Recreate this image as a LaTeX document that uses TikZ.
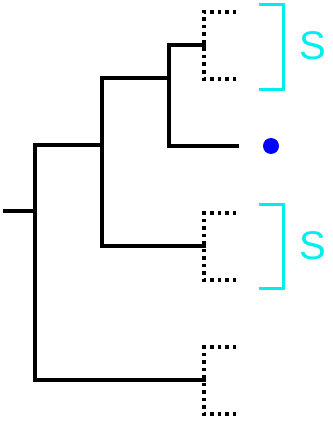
\documentclass[tikz,border=0pt]{standalone}
\usepackage{fontspec}
\setmainfont{Liberation Sans}
\definecolor{cladecyan}{RGB}{0,238,238}
\tikzset{
  branch/.style={line width=3.5pt,line cap=rect},
  hidden/.style={line width=3.5pt,dash pattern=on 3.5pt off 4pt},
  cladebox/.style={cladecyan,line width=3pt},
  cladename/.style={cladecyan,font=\fontsize{40}{40}\selectfont,inner sep=0pt}
}
\begin{document}
\begin{tikzpicture}[x=1pt,y=-1pt]
\useasboundingbox (0,0) rectangle (332,428);
%\draw[step=10,gray,very thin] (0,0) grid (332,428);
% internal nodes of the tree
\coordinate (root) at (5,211);
\coordinate (n1) at (35,211);
\coordinate (n2) at (102,145);
\coordinate (n3) at (169,78);
% tips
\coordinate (t1) at (204,45);
\coordinate (t2) at (237,146);
\coordinate (t3) at (204,246);
\coordinate (t4) at (204,380);

\draw[branch] (root) -- (n1);
\draw[branch] (n1 |- n2) -- (n1 |- t4);
\draw[branch] (n1 |- n2) -- (n2);
\draw[branch] (n1 |- t4) -- (t4);
\draw[branch] (n2 |- n3) -- (n2 |- t3);
\draw[branch] (n2 |- n3) -- (n3);
\draw[branch] (n2 |- t3) -- (t3);
\draw[branch] (n3 |- t1) -- (n3 |- t2);
\draw[branch] (n3 |- t1) -- (t1);
\draw[branch] (n3 |- t2) -- (t2);

% collapsed subtrees
\foreach \t in {t1,t3,t4}{
  \draw[hidden] (\t) ++(32,-33) -- ++(-32,0) -- ++(0,67) -- ++(32,0);
}

\fill[blue] (271,146) circle (8);

% clade brackets
\draw[cladebox] (259,5) -| (283,89) -- (259,89);
\draw[cladebox] (259,204) -| (283,288) -- (259,288);
\node[cladename] (s1) at (313,46) {S};
\node[cladename] (s2) at (313,246) {S};
\end{tikzpicture}
\end{document}
